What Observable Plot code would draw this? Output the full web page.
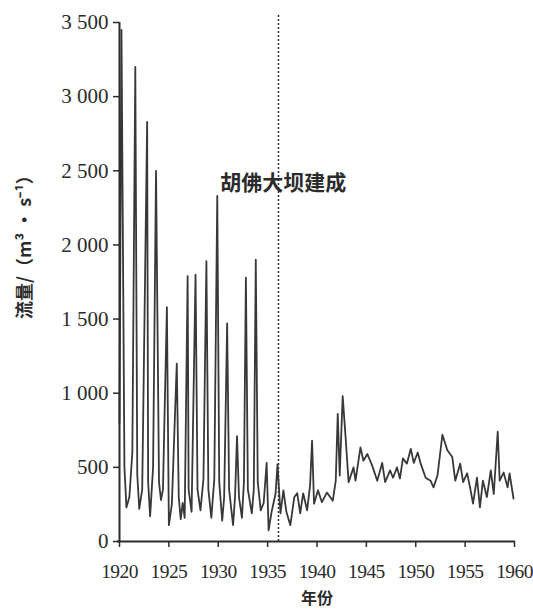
<!DOCTYPE html>
<html>
<head>
<meta charset="utf-8">
<script src="https://cdn.jsdelivr.net/npm/d3@7"></script>
<script src="https://cdn.jsdelivr.net/npm/@observablehq/plot@0.6"></script>
<style>
  html, body { margin: 0; padding: 0; background: #fff; }
  #chart { width: 533px; height: 612px; }
</style>
</head>
<body>
<div id="chart"></div>
<script>
// ---- data ----
const years = [
  1920.0, 1920.2, 1920.5, 1920.7, 1921.0, 1921.3, 1921.6, 1921.8, 1922.0, 1922.3,
  1922.8, 1922.9, 1923.1, 1923.4, 1923.7, 1924.0, 1924.2, 1924.4, 1924.8, 1925.0,
  1925.3, 1925.8, 1926.0, 1926.2, 1926.4, 1926.6, 1926.9, 1927.0, 1927.3, 1927.7,
  1927.9, 1928.2, 1928.5, 1928.8, 1929.0, 1929.3, 1929.6, 1929.9, 1930.1, 1930.4,
  1930.6, 1930.9, 1931.1, 1931.5, 1931.7, 1931.9, 1932.1, 1932.4, 1932.6, 1932.8,
  1933.0, 1933.4, 1933.6, 1933.8, 1934.0, 1934.3, 1934.6, 1934.9, 1935.1, 1935.4,
  1935.8, 1936.0, 1936.3, 1936.6, 1936.9, 1937.3, 1937.7, 1938.0, 1938.3, 1938.6,
  1939.0, 1939.3, 1939.5, 1939.7, 1940.1, 1940.5, 1941.0, 1941.6, 1941.9, 1942.1,
  1942.3, 1942.6, 1942.9, 1943.2, 1943.7, 1943.9, 1944.4, 1944.7, 1945.1, 1945.6,
  1946.1, 1946.6, 1946.9, 1947.4, 1947.7, 1948.1, 1948.4, 1948.7, 1949.1, 1949.5,
  1949.8, 1950.2, 1950.5, 1951.0, 1951.5, 1951.8, 1952.2, 1952.7, 1953.2, 1953.7,
  1954.0, 1954.5, 1954.8, 1955.2, 1955.5, 1955.8, 1956.2, 1956.5, 1956.8, 1957.2,
  1957.6, 1957.9, 1958.3, 1958.5, 1958.9, 1959.3, 1959.5, 1959.9
];
const flow = [
  800, 3450, 500, 230, 300, 600, 3200, 450, 220, 350,
  2830, 400, 170, 500, 2500, 400, 280, 350, 1580, 110,
  250, 1200, 300, 150, 260, 160, 1790, 350, 200, 1800,
  350, 210, 420, 1890, 350, 160, 420, 2330, 400, 140,
  300, 1470, 350, 110, 300, 710, 300, 160, 400, 1780,
  350, 190, 350, 1900, 400, 210, 260, 530, 75, 200,
  320, 520, 190, 345, 200, 110, 300, 325, 190, 325,
  210, 380, 680, 255, 345, 265, 330, 275, 410, 860,
  445, 980, 700, 400, 500, 410, 635, 545, 590, 510,
  410, 530, 400, 480, 430, 500, 425, 560, 525, 625,
  530, 600, 525, 430, 410, 365, 445, 720, 615, 570,
  410, 525, 400, 460, 365, 255, 430, 230, 410, 300,
  480, 320, 740, 410, 465, 365, 460, 290
];
const yTicks = [0, 500, 1000, 1500, 2000, 2500, 3000, 3500];
const xTicks = [1920, 1925, 1930, 1935, 1940, 1945, 1950, 1955, 1960];
const damYear = [1936.1];
const damLabel = ["胡佛大坝建成"];
const yLabel = ["流量/（m³ · s⁻¹）"];
const xLabel = ["年份"];

const series = years.map((y, i) => ({year: y, flow: flow[i]}));
const fmt = d => d >= 1000 ? `${Math.floor(d / 1000)} ${String(d % 1000).padStart(3, "0")}` : String(d);

const serif = "'Liberation Serif', 'DejaVu Serif', serif";
const cjk = "'Noto Sans CJK SC', sans-serif";
const ink = "#2b2b2b";

const chart = Plot.plot({
  width: 533,
  height: 612,
  marginLeft: 119,
  marginRight: 19,
  marginTop: 22,
  marginBottom: 71,
  style: {background: "#fff", color: ink, fontFamily: serif, fontSize: "21px"},
  x: {domain: [1920, 1960], label: null},
  y: {domain: [0, 3500], label: null},
  marks: [
    Plot.axisY({ticks: yTicks, tickFormat: fmt, tickSize: 6, tickPadding: 5, fontSize: 21, fontFamily: serif, stroke: ink, strokeWidth: 1.5, label: null}),
    Plot.axisX({ticks: xTicks, tickFormat: d => String(d), tickSize: 6, tickPadding: 17, fontSize: 19.5, fontFamily: serif, stroke: ink, strokeWidth: 1.5, label: null}),
    Plot.ruleX(damYear, {y1: 0, y2: 3560, stroke: ink, strokeWidth: 1.5, strokeDasharray: "2,2"}),
    Plot.line(series, {x: "year", y: "flow", stroke: "#383838", strokeWidth: 1.8, curve: "linear"}),
    Plot.ruleX([1920], {y1: 0, y2: 3500, stroke: ink, strokeWidth: 2}),
    Plot.ruleY([0], {x1: 1919.8, x2: 1960.1, stroke: ink, strokeWidth: 2}),
    Plot.text(damLabel, {x: 1930.2, y: 2414, text: d => d, textAnchor: "start", fontFamily: cjk, fontSize: 21, fontWeight: "bold", fill: ink}),
    Plot.text(yLabel, {x: 1920, y: 2016, text: d => d, rotate: -90, dx: -94, fontFamily: cjk, fontSize: 18, fontWeight: "bold", fill: ink}),
    Plot.text(xLabel, {x: 1940, y: 0, text: d => d, dy: 57, fontFamily: cjk, fontSize: 16, fontWeight: "bold", fill: ink})
  ]
});
d3.select(chart).selectAll('g[aria-label="x-axis tick label"] text').style("letter-spacing", "-0.6px");
document.getElementById("chart").appendChild(chart);
</script>
</body>
</html>
